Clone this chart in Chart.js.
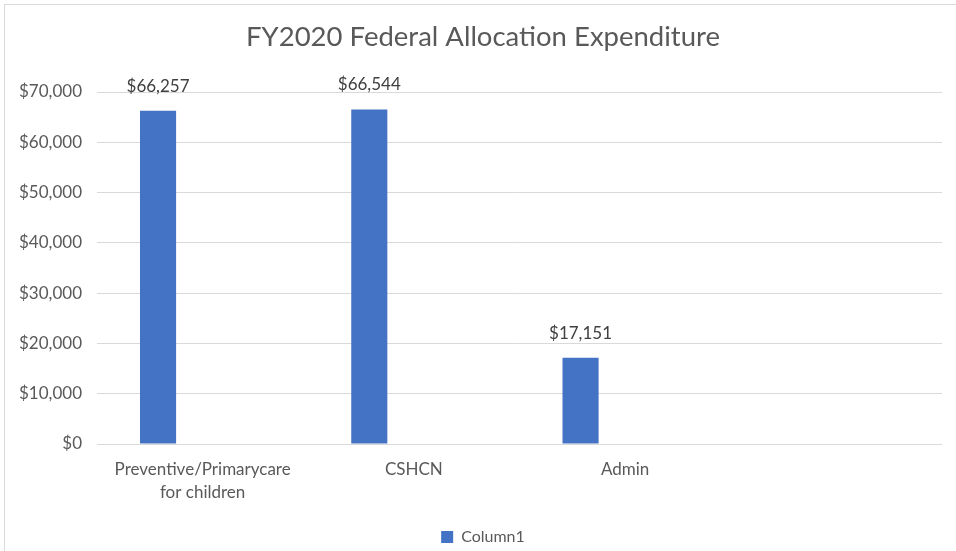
<!DOCTYPE html>
<html>
<head>
<meta charset="utf-8">
<script src="https://cdn.jsdelivr.net/npm/chart.js@4/dist/chart.umd.min.js"></script>
<style>
  html, body { margin: 0; padding: 0; background: #fff; }
  #wrap { position: relative; width: 956px; height: 551px; overflow: hidden; }
  #frame { position: absolute; left: 4px; top: 4px; width: 990px; height: 570px; border: 1px solid #d9d9d9; box-sizing: border-box; }
  canvas { position: absolute; left: 0; top: 0; }
</style>
</head>
<body>
<div id="wrap">
  <div id="frame"></div>
  <canvas id="c" width="975" height="555"></canvas>
</div>
<script>
// Categories along the x axis (the last slot is left empty)
const categories = [['Preventive/Primarycare', 'for children'], 'CSHCN', 'Admin', ''];
// Expenditure per category, in dollars
const column1 = [66257, 66544, 17151, null];
// Companion series with no values; they only reserve their slots in each group
const column2 = [null, null, null, null];
const column3 = [null, null, null, null];
// Value axis ticks
const yTicks = [0, 10000, 20000, 30000, 40000, 50000, 60000, 70000];

const FONT = 'Lato, "Open Sans", sans-serif';
const TEXT = '#595959';
const BLUE = '#4472C4';

const money = v => '$' + Number(v).toLocaleString('en-US');

// Writes each bar's value just above it
const valueLabels = {
  id: 'valueLabels',
  afterDatasetsDraw(chart) {
    const ctx = chart.ctx;
    const meta = chart.getDatasetMeta(0);
    const data = chart.data.datasets[0].data;
    ctx.save();
    ctx.font = '17px ' + FONT;
    ctx.fillStyle = '#404040';
    ctx.textAlign = 'center';
    ctx.textBaseline = 'alphabetic';
    meta.data.forEach((bar, i) => {
      if (data[i] == null) return;
      ctx.fillText(money(data[i]), bar.x, bar.y - 19);
    });
    ctx.restore();
  }
};

new Chart(document.getElementById('c'), {
  type: 'bar',
  data: {
    labels: categories,
    datasets: [
      { label: 'Column1', data: column1, backgroundColor: BLUE },
      { label: 'Column2', data: column2, backgroundColor: BLUE },
      { label: 'Column3', data: column3, backgroundColor: BLUE }
    ]
  },
  options: {
    responsive: false,
    animation: false,
    devicePixelRatio: 1,
    categoryPercentage: 0.633,
    barPercentage: 0.81,
    layout: { padding: { left: 5, right: 14, top: 4, bottom: 0 } },
    plugins: {
      title: {
        display: true,
        text: 'FY2020 Federal Allocation Expenditure',
        color: TEXT,
        font: { family: FONT, size: 27.5, weight: 'normal' },
        padding: { top: 17, bottom: 38 }
      },
      legend: {
        position: 'bottom',
        labels: {
          filter: item => item.text === 'Column1',
          color: TEXT,
          font: { family: FONT, size: 16 },
          boxWidth: 12,
          boxHeight: 12,
          padding: 3
        }
      },
      tooltip: { enabled: false }
    },
    scales: {
      x: {
        grid: { display: false },
        border: { display: false },
        ticks: {
          color: TEXT,
          font: { family: FONT, size: 17, lineHeight: 1.35 },
          padding: 6,
          maxRotation: 0,
          autoSkip: false
        },
        afterFit(scale) { scale.height = 82; }
      },
      y: {
        min: 0,
        max: 70000,
        grid: { color: '#d9d9d9', drawTicks: false },
        border: { display: false },
        afterBuildTicks(scale) { scale.ticks = yTicks.map(v => ({ value: v })); },
        ticks: {
          color: TEXT,
          font: { family: FONT, size: 17 },
          padding: 15,
          callback: v => money(v)
        },
        afterFit(scale) { scale.width = 92; }
      },
      // blank strip on the right of the plot
      gutter: {
        type: 'linear',
        position: 'right',
        grid: { display: false },
        border: { display: false },
        ticks: { display: false },
        afterFit(scale) { scale.width = 19; }
      }
    }
  },
  plugins: [valueLabels]
});
</script>
</body>
</html>
